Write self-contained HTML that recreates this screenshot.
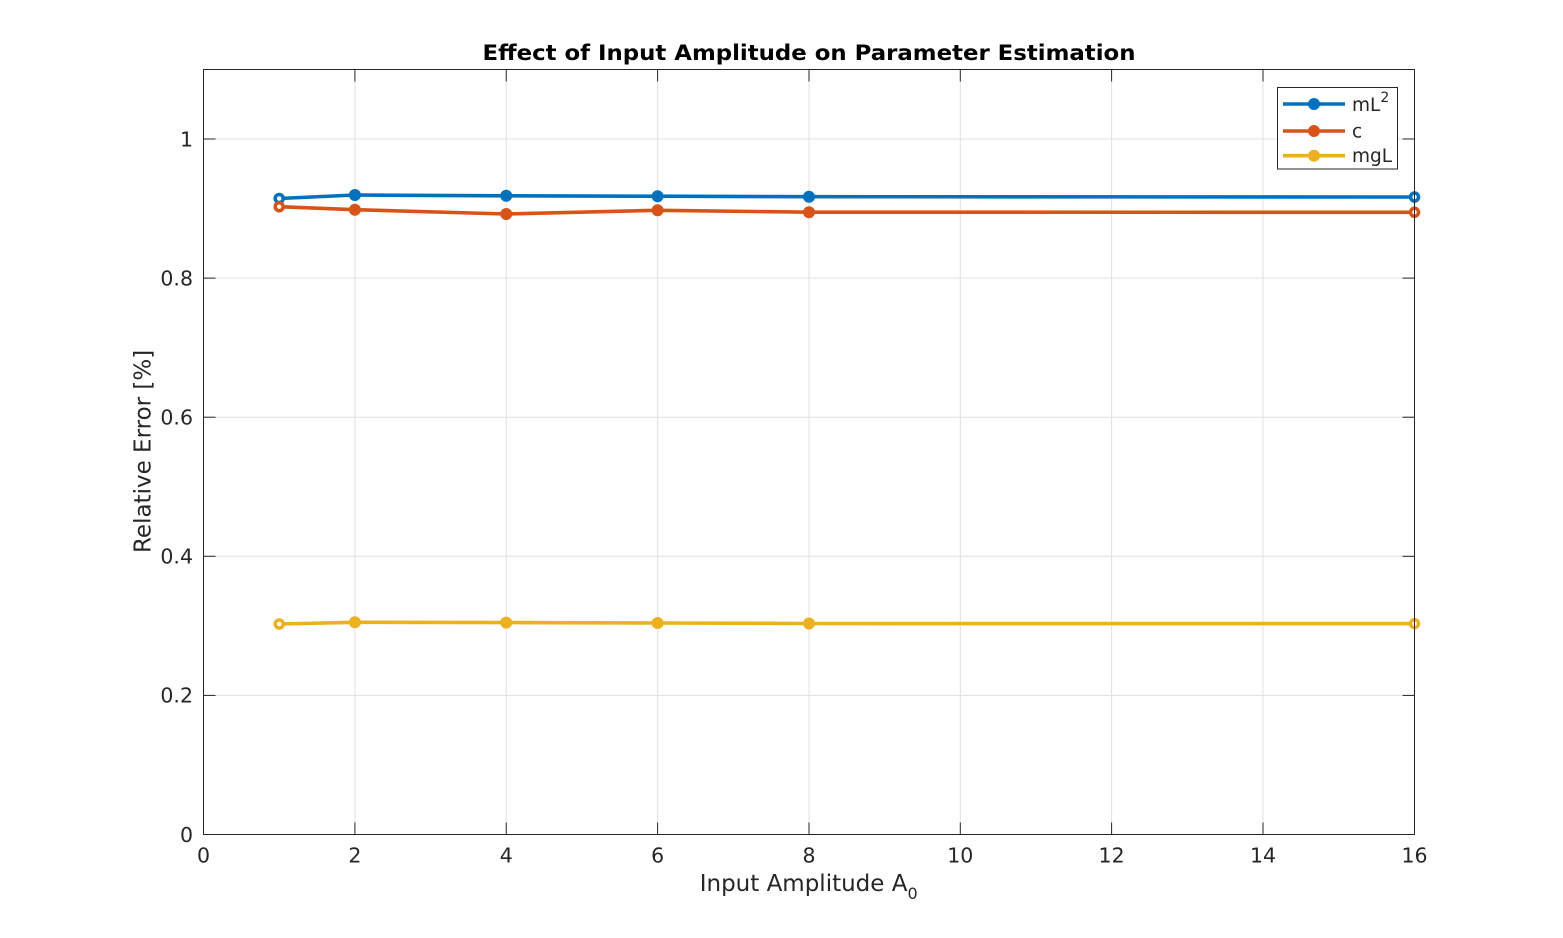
<!DOCTYPE html>
<html>
<head>
<meta charset="utf-8">
<style>
  html, body { margin: 0; padding: 0; background: #ffffff; }
  svg { display: block; }
  text { font-family: "DejaVu Sans", "Liberation Sans", sans-serif; fill: #262626; }
</style>
</head>
<body>
<svg width="1563" height="938" viewBox="0 0 1563 938" xmlns="http://www.w3.org/2000/svg">
  <rect x="0" y="0" width="1563" height="938" fill="#ffffff"/>
  <rect x="203.5" y="69.5" width="1211" height="765" fill="#ffffff"/>

  <!-- grid -->
  <g stroke="#e0e0e0" stroke-width="1">
    <line x1="354.9" y1="69.5" x2="354.9" y2="834.5"/>
    <line x1="506.25" y1="69.5" x2="506.25" y2="834.5"/>
    <line x1="657.6" y1="69.5" x2="657.6" y2="834.5"/>
    <line x1="809" y1="69.5" x2="809" y2="834.5"/>
    <line x1="960.3" y1="69.5" x2="960.3" y2="834.5"/>
    <line x1="1111.6" y1="69.5" x2="1111.6" y2="834.5"/>
    <line x1="1263" y1="69.5" x2="1263" y2="834.5"/>
    <line x1="203.5" y1="695.4" x2="1414.5" y2="695.4"/>
    <line x1="203.5" y1="556.3" x2="1414.5" y2="556.3"/>
    <line x1="203.5" y1="417.2" x2="1414.5" y2="417.2"/>
    <line x1="203.5" y1="278.1" x2="1414.5" y2="278.1"/>
    <line x1="203.5" y1="139" x2="1414.5" y2="139"/>
  </g>

  <!-- ticks -->
  <g stroke="#262626" stroke-width="1">
    <line x1="354.9" y1="834.5" x2="354.9" y2="822.5"/>
    <line x1="506.25" y1="834.5" x2="506.25" y2="822.5"/>
    <line x1="657.6" y1="834.5" x2="657.6" y2="822.5"/>
    <line x1="809" y1="834.5" x2="809" y2="822.5"/>
    <line x1="960.3" y1="834.5" x2="960.3" y2="822.5"/>
    <line x1="1111.6" y1="834.5" x2="1111.6" y2="822.5"/>
    <line x1="1263" y1="834.5" x2="1263" y2="822.5"/>
    <line x1="354.9" y1="69.5" x2="354.9" y2="81.5"/>
    <line x1="506.25" y1="69.5" x2="506.25" y2="81.5"/>
    <line x1="657.6" y1="69.5" x2="657.6" y2="81.5"/>
    <line x1="809" y1="69.5" x2="809" y2="81.5"/>
    <line x1="960.3" y1="69.5" x2="960.3" y2="81.5"/>
    <line x1="1111.6" y1="69.5" x2="1111.6" y2="81.5"/>
    <line x1="1263" y1="69.5" x2="1263" y2="81.5"/>
    <line x1="203.5" y1="695.4" x2="215.5" y2="695.4"/>
    <line x1="203.5" y1="556.3" x2="215.5" y2="556.3"/>
    <line x1="203.5" y1="417.2" x2="215.5" y2="417.2"/>
    <line x1="203.5" y1="278.1" x2="215.5" y2="278.1"/>
    <line x1="203.5" y1="139" x2="215.5" y2="139"/>
    <line x1="1414.5" y1="695.4" x2="1402.5" y2="695.4"/>
    <line x1="1414.5" y1="556.3" x2="1402.5" y2="556.3"/>
    <line x1="1414.5" y1="417.2" x2="1402.5" y2="417.2"/>
    <line x1="1414.5" y1="278.1" x2="1402.5" y2="278.1"/>
    <line x1="1414.5" y1="139" x2="1402.5" y2="139"/>
  </g>

  <!-- series -->
  <g fill="none" stroke-width="3.6" stroke-linejoin="round" stroke-linecap="round">
    <polyline stroke="#0072BD" points="279.2,198.5 354.9,195 506.25,195.8 657.6,196.2 809,196.7 1414.5,197"/>
    <polyline stroke="#D95319" points="279.2,206.7 354.9,209.7 506.25,214 657.6,210.3 809,212.2 1414.5,212.3"/>
    <polyline stroke="#EDB120" points="279.2,624 354.9,622.3 506.25,622.6 657.6,623 809,623.5 1414.5,623.6"/>
  </g>

  <g fill="#0072BD">
    <circle cx="354.9" cy="195" r="6"/>
    <circle cx="506.25" cy="195.8" r="6"/>
    <circle cx="657.6" cy="196.2" r="6"/>
    <circle cx="809" cy="196.7" r="6"/>
  </g>
  <g fill="#D95319">
    <circle cx="354.9" cy="209.7" r="6"/>
    <circle cx="506.25" cy="214" r="6"/>
    <circle cx="657.6" cy="210.3" r="6"/>
    <circle cx="809" cy="212.2" r="6"/>
  </g>
  <g fill="#EDB120">
    <circle cx="354.9" cy="622.3" r="6"/>
    <circle cx="506.25" cy="622.6" r="6"/>
    <circle cx="657.6" cy="623" r="6"/>
    <circle cx="809" cy="623.5" r="6"/>
  </g>
  <g fill="#ffffff" stroke-width="3.5">
    <circle cx="279.2" cy="198.5" r="4" stroke="#0072BD"/>
    <circle cx="1414.5" cy="197" r="4" stroke="#0072BD"/>
    <circle cx="279.2" cy="206.7" r="4" stroke="#D95319"/>
    <circle cx="1414.5" cy="212.3" r="4" stroke="#D95319"/>
    <circle cx="279.2" cy="624" r="4" stroke="#EDB120"/>
    <circle cx="1414.5" cy="623.6" r="4" stroke="#EDB120"/>
  </g>

  <rect x="203.5" y="69.5" width="1211" height="765" fill="none" stroke="#262626" stroke-width="1"/>

  <g font-size="20.5" text-anchor="middle">
    <text x="203.5" y="862.5">0</text>
    <text x="354.9" y="862.5">2</text>
    <text x="506.25" y="862.5">4</text>
    <text x="657.6" y="862.5">6</text>
    <text x="809" y="862.5">8</text>
    <text x="960.3" y="862.5">10</text>
    <text x="1111.6" y="862.5">12</text>
    <text x="1263" y="862.5">14</text>
    <text x="1414.5" y="862.5">16</text>
  </g>
  <g font-size="20.5" text-anchor="end">
    <text x="193" y="841.8">0</text>
    <text x="193" y="702.7">0.2</text>
    <text x="193" y="563.6">0.4</text>
    <text x="193" y="424.5">0.6</text>
    <text x="193" y="285.4">0.8</text>
    <text x="193" y="146.3">1</text>
  </g>

  <text x="808.7" y="891" font-size="23" text-anchor="middle">Input Amplitude A<tspan font-size="16" dy="8">0</tspan></text>
  <text transform="translate(150.5,451.4) rotate(-90)" font-size="23" text-anchor="middle">Relative Error [%]</text>

  <text x="482.5" y="60" font-size="21.5" font-weight="bold" style="fill:#000" textLength="653" lengthAdjust="spacingAndGlyphs">Effect of Input Amplitude on Parameter Estimation</text>

  <rect x="1277.5" y="87.5" width="120" height="81.5" fill="#ffffff" stroke="#262626" stroke-width="1"/>
  <g stroke-width="3.6">
    <line x1="1283" y1="104" x2="1345" y2="104" stroke="#0072BD"/>
    <line x1="1283" y1="131" x2="1345" y2="131" stroke="#D95319"/>
    <line x1="1283" y1="155.7" x2="1345" y2="155.7" stroke="#EDB120"/>
  </g>
  <circle cx="1314" cy="104" r="6" fill="#0072BD"/>
  <circle cx="1314" cy="131" r="6" fill="#D95319"/>
  <circle cx="1314" cy="155.7" r="6" fill="#EDB120"/>
  <g font-size="18.5">
    <text x="1352" y="111">mL<tspan font-size="14" dy="-9">2</tspan></text>
    <text x="1352" y="137.5">c</text>
    <text x="1352" y="162">mgL</text>
  </g>
</svg>
</body>
</html>
